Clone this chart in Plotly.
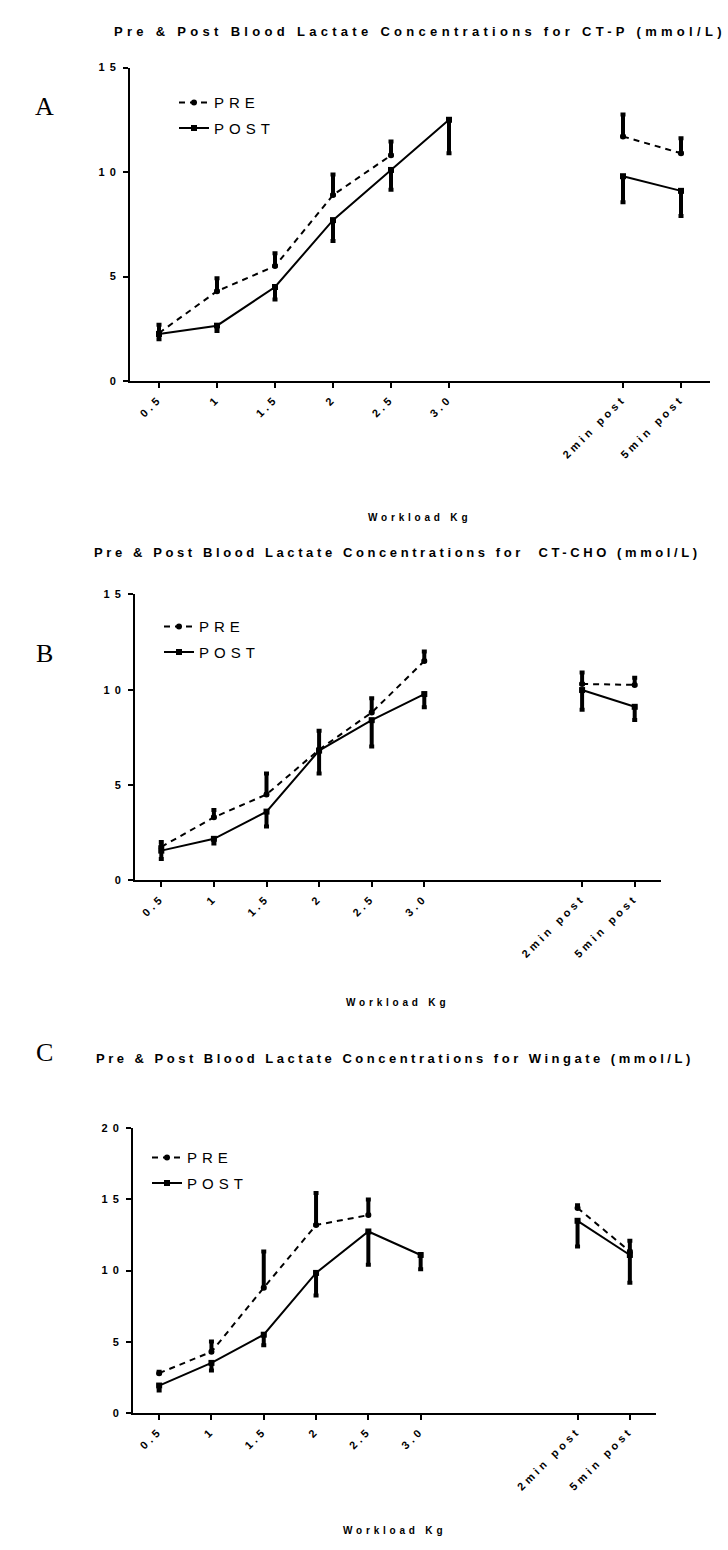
import plotly.graph_objects as go

W, H = 728, 1550

workloads = ["0.5", "1", "1.5", "2", "2.5", "3.0"]
recovery = ["2min post", "5min post"]
labels = workloads + recovery

titles = [
    "Pre & Post Blood Lactate Concentrations for CT-P (mmol/L)",
    "Pre & Post Blood Lactate Concentrations for  CT-CHO (mmol/L)",
    "Pre & Post Blood Lactate Concentrations for Wingate (mmol/L)",
]
panel_letters = ["A", "B", "C"]
x_title = "Workload Kg"
series_names = ["PRE", "POST"]

# Panel A (CT-P)
a_pre = [2.3, 4.3, 5.5, 8.9, 10.8, None, 11.7, 10.9]
a_pre_sd = [0.4, 0.62, 0.62, 0.98, 0.66, 0, 1.05, 0.72]
a_post = [2.25, 2.65, 4.5, 7.7, 10.1, 12.5, 9.8, 9.1]
a_post_sd = [0.25, 0.25, 0.6, 1.0, 0.95, 1.6, 1.25, 1.2]

# Panel B (CT-CHO)
b_pre = [1.75, 3.3, 4.5, 6.85, 8.8, 11.5, 10.3, 10.25]
b_pre_sd = [0.25, 0.38, 1.1, 1.0, 0.75, 0.5, 0.6, 0.38]
b_post = [1.55, 2.17, 3.6, 6.8, 8.4, 9.77, 9.98, 9.1]
b_post_sd = [0.44, 0.24, 0.78, 1.2, 1.38, 0.69, 1.04, 0.69]

# Panel C (Wingate)
c_pre = [2.8, 4.3, 8.8, 13.2, 13.9, None, 14.4, 11.35]
c_pre_sd = [0.1, 0.72, 2.55, 2.25, 1.1, 0, 0.2, 0.75]
c_post = [1.93, 3.52, 5.5, 9.84, 12.75, 11.1, 13.5, 11.1]
c_post_sd = [0.35, 0.54, 0.74, 1.58, 2.33, 1.0, 1.8, 1.95]

panels = [
    dict(pre=a_pre, pre_sd=a_pre_sd, post=a_post, post_sd=a_post_sd, ymax=15, yticks=[0, 5, 10, 15],
         px=(130, 710), py=(378, 62), title_y=26, title_sp=4.3, letter_y=101, xt_y=515, leg=(174, 81)),
    dict(pre=b_pre, pre_sd=b_pre_sd, post=b_post, post_sd=b_post_sd, ymax=15, yticks=[0, 5, 10, 15],
         px=(135, 661), py=(881, 593), title_y=551, title_sp=3.6, letter_y=653, xt_y=1004, leg=(159, 609)),
    dict(pre=c_pre, pre_sd=c_pre_sd, post=c_post, post_sd=c_post_sd, ymax=20, yticks=[0, 5, 10, 15, 20],
         px=(133, 656), py=(1418, 1131), title_y=1061, title_sp=3.5, letter_y=1055, xt_y=1536, leg=(147, 1144)),
]

FONT = "Liberation Sans, Arial, sans-serif"

def sp(t, s):
    return '<span style="letter-spacing:%spx">%s</span>' % (s, t)

# category positions: workloads in a row, then a gap of two slots before recovery
xpos = list(range(len(workloads))) + [len(workloads) + 2 + i for i in range(len(recovery))]
nw = len(workloads)

fig = go.Figure()
annotations = []

for i, p in enumerate(panels):
    k = "" if i == 0 else str(i + 1)
    xa, ya = "x" + k, "y" + k
    leg = "legend" + k
    for s, (vals, sd, dash, sym) in enumerate([
        (p["pre"], p["pre_sd"], "6px,5px", "circle"),
        (p["post"], p["post_sd"], "solid", "square"),
    ]):
        for seg, sl in enumerate([slice(0, nw), slice(nw, None)]):
            up = sd[sl] if s == 0 else [0] * len(sd[sl])
            dn = [0] * len(sd[sl]) if s == 0 else sd[sl]
            fig.add_trace(go.Scatter(
                x=xpos[sl], y=vals[sl], mode="lines+markers",
                name=sp(series_names[s], 5), legend=leg, showlegend=(seg == 0),
                legendgroup="g%d_%d" % (i, s),
                line=dict(color="black", width=2, dash=dash),
                marker=dict(symbol=sym, size=6, color="black"),
                error_y=dict(type="data", symmetric=False, array=up, arrayminus=dn,
                             thickness=4, width=2.5, color="black"),
                xaxis=xa, yaxis=ya, cliponaxis=False, connectgaps=False,
            ))
    x0, x1 = p["px"]
    yb, yt = p["py"]
    fig.layout["xaxis" + k] = dict(
        domain=[x0 / W, x1 / W], anchor=ya, range=[-0.5, xpos[-1] + 0.5],
        tickvals=xpos, ticktext=[sp(t, 3.6) for t in labels], tickangle=-45,
        showline=True, linecolor="black", linewidth=2, ticks="outside", ticklen=5,
        tickwidth=2, tickcolor="black", showgrid=False, zeroline=False,
        tickfont=dict(family=FONT, size=11, color="black", weight="bold"),
    )
    fig.layout["yaxis" + k] = dict(
        domain=[1 - yb / H, 1 - yt / H], anchor=xa, range=[0, p["ymax"]],
        tickvals=p["yticks"], ticktext=[sp(str(t), 5) for t in p["yticks"]],
        showline=True, linecolor="black", linewidth=2, ticks="outside", ticklen=5,
        tickwidth=2, tickcolor="black", showgrid=False, zeroline=False,
        tickfont=dict(family=FONT, size=11, color="black", weight="bold"),
    )
    lx, ly = p["leg"]
    fig.layout[leg] = dict(
        x=lx / W, y=1 - ly / H, xanchor="left", yanchor="top", xref="paper", yref="paper",
        bgcolor="rgba(0,0,0,0)", font=dict(family=FONT, size=15, color="black"),
        itemwidth=30, tracegroupgap=3,
    )
    cx = (x0 + x1) / 2
    annotations.append(dict(
        text="<b>" + sp(titles[i], p["title_sp"]) + "</b>", x=cx / W, y=1 - p["title_y"] / H,
        xref="paper", yref="paper", showarrow=False, xanchor="center", yanchor="middle",
        font=dict(family=FONT, size=13, color="black"),
    ))
    annotations.append(dict(
        text=panel_letters[i], x=44 / W, y=1 - p["letter_y"] / H,
        xref="paper", yref="paper", showarrow=False, xanchor="center", yanchor="middle",
        font=dict(family="Liberation Serif, Times New Roman, serif", size=26, color="black"),
    ))
    annotations.append(dict(
        text="<b>" + sp(x_title, 3.8) + "</b>", x=cx / W, y=1 - p["xt_y"] / H,
        xref="paper", yref="paper", showarrow=False, xanchor="center", yanchor="middle",
        font=dict(family=FONT, size=10, color="black"),
    ))

fig.update_layout(
    width=W, height=H, margin=dict(l=0, r=0, t=0, b=0),
    paper_bgcolor="white", plot_bgcolor="white",
    annotations=annotations,
)

fig.write_html("out.html")
